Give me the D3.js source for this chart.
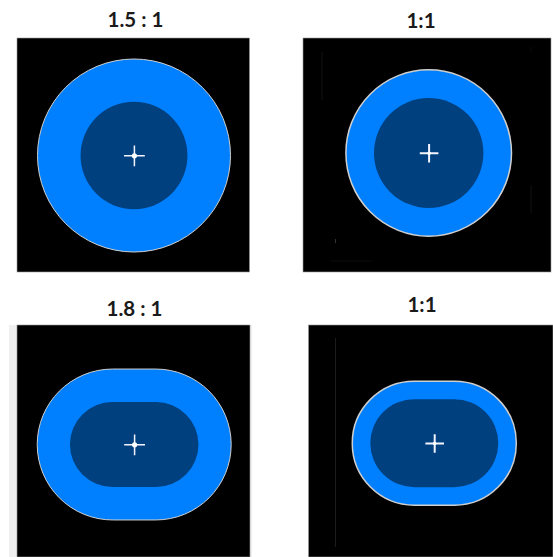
<!DOCTYPE html>
<html>
<head>
<meta charset="utf-8">
<script src="https://cdn.jsdelivr.net/npm/d3@7"></script>
<style>
html, body { margin: 0; padding: 0; background: #fff; overflow: hidden; }
svg { display: block; }
text { font-family: Lato, "Open Sans", sans-serif; font-weight: 700; font-size: 20.5px; fill: #1a1a1a; text-anchor: middle; }
</style>
</head>
<body>
<svg id="chart" width="553" height="557"></svg>
<script>
// ratio labels and shape sizes, in units where the first outer circle is 100 wide
var titles = ["1.5 : 1", "1:1", "1.8 : 1", "1:1"];
var outerW = [100, 85.8, 100.5, 85];
var outerH = [100, 86.2, 78.2, 64.2];
var innerW = [55.4, 56.7, 66.6, 66.3];
var innerH = [55.7, 57, 44, 45.6];
var crossLen = [10.4, 9.3, 10.4, 9.3];

// where each panel sits on the page
var frames = [
    {x: 17, y: 38, w: 232.5, h: 234, cx: 134, cy: 155.5, tx: 135.5, ty: 27, edge: 1, dot: 2.6},
    {x: 303, y: 38, w: 248, h: 234, cx: 428.7, cy: 153, tx: 421, ty: 28, edge: 1.5, dot: 1.8},
    {x: 17, y: 325, w: 233, h: 232, cx: 134.2, cy: 444.5, tx: 134.5, ty: 316, edge: 1, dot: 2.6},
    {x: 308.5, y: 325, w: 244.5, h: 232, cx: 434.3, cy: 443.2, tx: 422, ty: 312, edge: 1.5, dot: 1.8}
];

var size = d3.scaleLinear().domain([0, 100]).range([0, 193]);

var svg = d3.select("#chart");

// soften everything a bit, the source is a resampled screenshot
svg.append("defs").append("filter")
    .attr("id", "soft")
    .append("feGaussianBlur")
    .attr("stdDeviation", 0.45);

// pale strips at the sides of the third panel
svg.selectAll(".strip")
    .data([[9, 8], [250, 2]])
    .enter()
    .append("rect")
    .attr("class", "strip")
    .attr("x", d => d[0])
    .attr("y", 325)
    .attr("width", d => d[1])
    .attr("height", 232)
    .attr("fill", "#f0f0f0");

var panels = svg.selectAll(".panel")
    .data(titles)
    .enter()
    .append("g")
    .attr("class", "panel");

panels.append("rect")
    .attr("x", (d, i) => frames[i].x)
    .attr("y", (d, i) => frames[i].y)
    .attr("width", (d, i) => frames[i].w)
    .attr("height", (d, i) => frames[i].h)
    .attr("fill", "#000")
    .attr("stroke", "#9a9a9a")
    .attr("stroke-width", 0.6);

var shapes = panels.append("g").attr("filter", "url(#soft)");

shapes.append("rect")
    .attr("x", (d, i) => frames[i].cx - size(outerW[i]) / 2)
    .attr("y", (d, i) => frames[i].cy - size(outerH[i]) / 2)
    .attr("width", (d, i) => size(outerW[i]))
    .attr("height", (d, i) => size(outerH[i]))
    .attr("rx", (d, i) => size(outerH[i]) / 2)
    .attr("fill", "#0080ff")
    .attr("stroke", "#cfcfcf")
    .attr("stroke-width", (d, i) => frames[i].edge);

shapes.append("rect")
    .attr("x", (d, i) => frames[i].cx - size(innerW[i]) / 2)
    .attr("y", (d, i) => frames[i].cy - size(innerH[i]) / 2)
    .attr("width", (d, i) => size(innerW[i]))
    .attr("height", (d, i) => size(innerH[i]))
    .attr("rx", (d, i) => size(innerH[i]) / 2)
    .attr("fill", "#00407f");

// centre cross
shapes.append("path")
    .attr("d", function(d, i) {
        var f = frames[i];
        var n = size(crossLen[i]) / 1.93;
        var p = d3.path();
        p.moveTo(f.cx - n + 0.4, f.cy + 0.3);
        p.lineTo(f.cx + n + 0.4, f.cy + 0.3);
        p.moveTo(f.cx + 0.4, f.cy - n + 0.3);
        p.lineTo(f.cx + 0.4, f.cy + n + 0.3);
        return p.toString();
    })
    .attr("stroke", "#f4f4ff")
    .attr("stroke-width", (d, i) => i % 2 ? 2 : 1.5)
    .attr("fill", "none");

shapes.append("circle")
    .attr("cx", (d, i) => frames[i].cx + 0.4)
    .attr("cy", (d, i) => frames[i].cy + 0.3)
    .attr("r", (d, i) => frames[i].dot)
    .attr("fill", "#fff");

panels.append("text")
    .attr("x", (d, i) => frames[i].tx)
    .attr("y", (d, i) => frames[i].ty)
    .text(d => d);

// faint scanning marks left on the black backgrounds
var marks = [
    [322, 52, 322, 100, 0.1], [531, 185, 531, 213, 0.1], [335.5, 338, 335.5, 547, 0.16],
    [335.5, 243, 335.5, 239, 0.3], [331, 261, 372, 261, 0.08], [531, 47, 531, 52, 0.08]
];
svg.selectAll(".mark")
    .data(marks)
    .enter()
    .append("line")
    .attr("class", "mark")
    .attr("x1", d => d[0])
    .attr("y1", d => d[1])
    .attr("x2", d => d[2])
    .attr("y2", d => d[3])
    .attr("stroke", "#fff")
    .attr("stroke-opacity", d => d[4])
    .attr("stroke-width", 0.7);
</script>
</body>
</html>
